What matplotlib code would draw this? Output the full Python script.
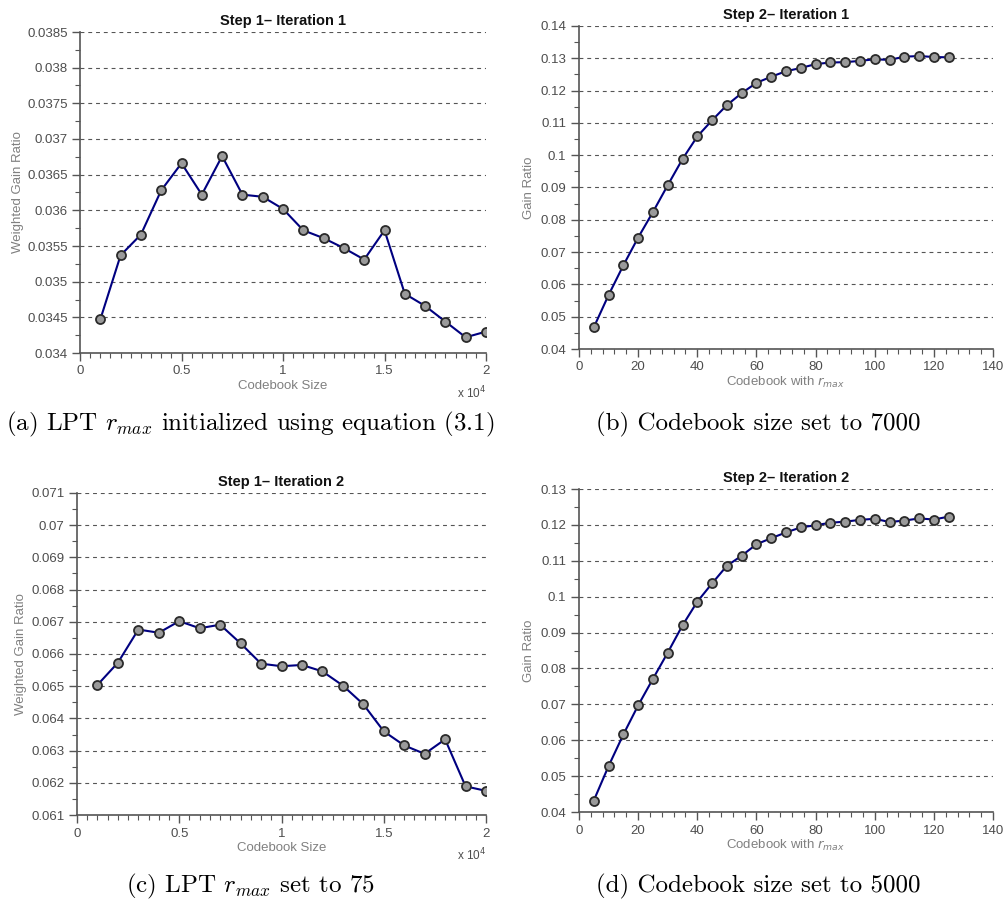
import matplotlib
matplotlib.use('Agg')
import matplotlib.pyplot as plt
from matplotlib.ticker import MultipleLocator, FuncFormatter
import numpy as np

# Dados
codebook_sizes = [1000, 2000, 3000, 4000, 5000, 6000, 7000, 8000, 9000, 10000,
                  11000, 12000, 13000, 14000, 15000, 16000, 17000, 18000, 19000, 20000]
rmax_values = [5, 10, 15, 20, 25, 30, 35, 40, 45, 50, 55, 60, 65, 70, 75,
               80, 85, 90, 95, 100, 105, 110, 115, 120, 125]

wgr_step1_it1 = [0.03447, 0.03537, 0.03566, 0.03628, 0.03666, 0.03622, 0.03676,
                 0.03622, 0.03619, 0.03602, 0.03572, 0.03561, 0.03547, 0.03531,
                 0.03572, 0.03483, 0.03466, 0.03444, 0.03422, 0.03430]
gr_step2_it1 = [0.0467, 0.0567, 0.0659, 0.0745, 0.0824, 0.0907, 0.0988, 0.1058,
                0.1108, 0.1155, 0.1192, 0.1224, 0.1243, 0.1260, 0.1270, 0.1282,
                0.1287, 0.1288, 0.1292, 0.1297, 0.1295, 0.1305, 0.1307, 0.1304, 0.1303]
wgr_step1_it2 = [0.06504, 0.06573, 0.06676, 0.06666, 0.06702, 0.06680, 0.06691,
                 0.06633, 0.06570, 0.06562, 0.06566, 0.06546, 0.06502, 0.06444,
                 0.06360, 0.06316, 0.06290, 0.06335, 0.06189, 0.06175]
gr_step2_it2 = [0.0432, 0.0528, 0.0616, 0.0697, 0.0771, 0.0844, 0.0920, 0.0986,
                0.1037, 0.1086, 0.1114, 0.1146, 0.1163, 0.1179, 0.1193, 0.1199,
                0.1206, 0.1209, 0.1214, 0.1217, 0.1208, 0.1212, 0.1218, 0.1215, 0.1223]

titles = ['Step 1\u2013 Iteration 1', 'Step 2\u2013 Iteration 1',
          'Step 1\u2013 Iteration 2', 'Step 2\u2013 Iteration 2']
captions = [r'(a) LPT $r_{max}$ initialized using equation (3.1)',
            r'(b) Codebook size set to 7000',
            r'(c) LPT $r_{max}$ set to 75',
            r'(d) Codebook size set to 5000']

plt.rcParams['font.family'] = ['Liberation Sans', 'DejaVu Sans']

W, H = 1006, 905
fig = plt.figure(figsize=(W / 100, H / 100), dpi=100)

def px_axes(left, top, right, bottom):
    return fig.add_axes([left / W, 1 - bottom / H, (right - left) / W, (bottom - top) / H])

ax_a = px_axes(80, 32, 486, 353)
ax_b = px_axes(579, 26, 993, 349)
ax_c = px_axes(77, 493, 486, 815)
ax_d = px_axes(579, 489, 993, 812)

tick_col = '#4d4d4d'
label_col = '#808080'

def estilo(ax, xs, ys, titulo, ylab, ylim, ystep, xlim, xstep, xminor, ylabel_px):
    ax.plot(xs, ys, color='#000080', linewidth=1.5, marker='o', markersize=6.5,
            markerfacecolor='#9a9a9a', markeredgecolor='#2a2a2a', markeredgewidth=1.3, zorder=3)
    ax.set_ylim(*ylim)
    ax.set_xlim(*xlim)
    ax.yaxis.set_major_locator(MultipleLocator(ystep))
    ax.yaxis.set_minor_locator(MultipleLocator(ystep / 2))
    ax.xaxis.set_major_locator(MultipleLocator(xstep))
    ax.xaxis.set_minor_locator(MultipleLocator(xminor))
    ax.yaxis.set_major_formatter(FuncFormatter(lambda v, p: '%g' % round(v, 6)))
    ax.grid(axis='y', which='major', color='#555555', linestyle=(0, (3.5, 3.5)), linewidth=0.8, zorder=1)
    ax.spines['top'].set_visible(False)
    ax.spines['right'].set_visible(False)
    for s in ['left', 'bottom']:
        ax.spines[s].set_color('#555555')
        ax.spines[s].set_linewidth(1.2)
    ax.tick_params(which='major', direction='out', length=6, width=1, color='#555555',
                   labelsize=9.5, labelcolor=tick_col, pad=3)
    ax.tick_params(which='minor', direction='out', length=3.5, width=0.8, color='#555555')
    ax.set_title(titulo, fontsize=10.5, fontweight='bold', color='#111111', pad=5)
    ax.set_ylabel(ylab, fontsize=9.5, color=label_col, va='center')
    bbox = ax.get_position()
    ax.yaxis.set_label_coords(-ylabel_px / (bbox.width * W), 0.5)

estilo(ax_a, codebook_sizes, wgr_step1_it1, titles[0], 'Weighted Gain Ratio',
       (0.034, 0.0385), 0.0005, (0, 20000), 5000, 500, 62)
estilo(ax_b, rmax_values, gr_step2_it1, titles[1], 'Gain Ratio',
       (0.04, 0.14), 0.01, (0, 140), 20, 4, 50)
estilo(ax_c, codebook_sizes, wgr_step1_it2, titles[2], 'Weighted Gain Ratio',
       (0.061, 0.071), 0.001, (0, 20000), 5000, 500, 56)
estilo(ax_d, rmax_values, gr_step2_it2, titles[3], 'Gain Ratio',
       (0.04, 0.13), 0.01, (0, 140), 20, 4, 50)

for ax in [ax_a, ax_c]:
    ax.xaxis.set_major_formatter(FuncFormatter(lambda v, p: '%g' % (v / 1e4)))
    ax.set_xlabel('Codebook Size', fontsize=9.5, color=label_col, labelpad=2)
    ax.text(1.0, -0.14, r'x 10$^4$', transform=ax.transAxes, ha='right', va='baseline',
            fontsize=8.5, color=tick_col)

for ax in [ax_b, ax_d]:
    ax.set_xlabel(r'Codebook with $\mathit{r}_{\mathit{max}}$', fontsize=9.5, color=label_col,
                  labelpad=1, math_fontfamily='dejavusans')

# legendas das subfiguras
cap_pos = [(250, 424), (758, 424), (250, 886), (758, 886)]
for (cx, cy), cap in zip(cap_pos, captions):
    fig.text(cx / W, 1 - cy / H, cap, ha='center', va='center', fontsize=18,
             family='cmr10', math_fontfamily='cm', color='#000000')

plt.savefig('out.png', dpi=100)
plt.close(fig)
